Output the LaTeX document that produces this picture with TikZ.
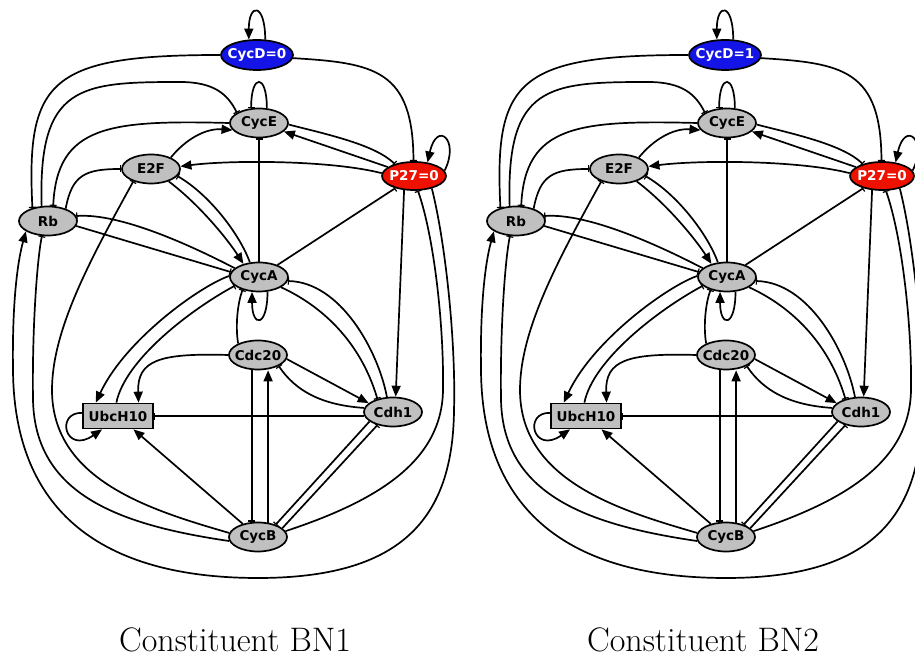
\documentclass[tikz,border=0pt]{standalone}
\usepackage{fontspec}
\usetikzlibrary{shapes.geometric,arrows.meta}
\newfontfamily\genefont{DejaVu Sans}
\definecolor{geneGray}{HTML}{C0C0C0}
\definecolor{cycdBlue}{HTML}{1414E6}
\definecolor{ptRed}{HTML}{EE1100}

\begin{document}
\begin{tikzpicture}[x=1pt,y=1pt,line width=1.7pt,
  every node/.style={font=\genefont\bfseries\fontsize{13.5}{15}\selectfont},
  gene/.style={ellipse,draw,fill=geneGray,minimum width=58pt,minimum height=29pt,inner xsep=-6pt,inner ysep=0pt},
  geneD/.style={gene,fill=cycdBlue,text=white,minimum width=72pt,minimum height=30pt},
  geneP/.style={gene,fill=ptRed,text=white,minimum width=64pt,minimum height=28pt},
  ubc/.style={rectangle,draw,fill=geneGray,minimum width=70pt,minimum height=25pt,inner xsep=-6pt,inner ysep=0pt},
  act/.style={-{Triangle[length=11pt,width=9pt]}},
  inh/.style={-{Bar[width=7pt,line width=1.2pt]}}]
\useasboundingbox (0,0) rectangle (915,660);
\clip (0,0) rectangle (915,660);
\foreach \g/\dx/\v/\n in {L/0/0/1,R/468/1/2}{
\begin{scope}[xshift=\dx pt,name prefix=\g-]
\node[geneD] (cycd) at (257,605) {CycD=\v};
\node[gene] (cyce) at (259,537) {CycE};
\node[gene] (e2f) at (151,491) {E2F};
\node[geneP] (p27) at (414,484) {P27=0};
\node[gene] (rb) at (48,439) {Rb};
\node[gene] (cyca) at (259,383) {CycA};
\node[gene] (cdc20) at (258,305) {Cdc20};
\node[gene] (cdh1) at (393,248) {Cdh1};
\node[ubc] (ubch10) at (118,244) {UbcH10};
\node[gene] (cycb) at (258,123) {CycB};
\node[font=\fontsize{34}{40}\selectfont] (cap) at (235,20) {Constituent BN\n};
\draw[act] (cycd.62) .. controls +(0,37) and +(0,37) .. (cycd.118);
\draw[inh] (cycd.west) .. controls (50,605) and (26,580) .. (rb.140);
\draw[inh] (cycd.355) .. controls (375,597) and (413,590) .. (p27.92);
\draw[inh] (cyce.62) .. controls +(0,35) and +(0,35) .. (cyce.118);
\draw[inh] (rb.113) .. controls (38,575) and (80,578) .. (180,578) .. controls (215,578) and (228,565) .. (cyce.155);
\draw[inh] (cyce.west) .. controls (110,540) and (57,535) .. (rb.71);
\draw[inh] (rb.35) .. controls (72,485) and (85,491) .. (e2f.west);
\draw[act] (e2f.30) .. controls (185,520) and (205,532) .. (cyce.195);
\draw[act] (p27.175) .. controls (330,500) and (230,500) .. (e2f.5);
\draw[act] (p27) -- (cyce);
\draw[inh] (cyce.357) .. controls (330,525) and (375,515) .. (p27.148);
\draw[act] (p27.10) .. controls (460,520) and (437,540) .. (p27.45);
\draw[inh] (cyca) -- (cyce);
\draw[act] (e2f.325) .. controls (200,455) and (228,420) .. (cyca.140);
\draw[inh] (cyca.122) .. controls (240,425) and (210,465) .. (e2f.345);
\draw[inh] (cyca.160) .. controls (190,415) and (120,447) .. (rb.10);
\draw[inh] (rb.350) -- (cyca.170);
\draw[inh] (cyca) -- (p27);
\draw[act] (p27.235) -- (cdh1.80);
\draw[inh] (cycb.12) .. controls (380,160) and (442,200) .. (443,270) .. controls (444,330) and (435,420) .. (p27.285);
\draw[act] (p27.325) .. controls (445,420) and (456,320) .. (454,250) .. controls (453,140) and (400,82) .. (258,82) .. controls (100,82) and (14,150) .. (13,290) .. controls (12,360) and (18,400) .. (rb.205);
\draw[inh] (cycb.188) .. controls (120,135) and (35,165) .. (33,260) .. controls (32,330) and (37,400) .. (rb.248);
\draw[inh] (cycb.172) .. controls (150,150) and (52,180) .. (52,270) .. controls (52,330) and (90,400) .. (e2f.215);
\draw[act] (cyca.300) .. controls +(0,-36) and +(0,-36) .. (cyca.245);
\draw[inh] (cdc20.150) .. controls (235,335) and (238,358) .. (cyca.218);
\draw[act] (cyca.178) .. controls (200,374) and (125,320) .. (ubch10.149);
\draw[inh] (ubch10.97) .. controls (125,300) and (190,350) .. (cyca.200);
\draw[act] (cdc20.west) .. controls (160,307) and (137,300) .. (ubch10.33);
\draw[act] (cdc20.352) -- (cdh1.160);
\draw[inh] (cdh1.172) .. controls (320,255) and (295,270) .. (cdc20.332);
\draw[inh] (cdh1.188) -- (cdh1.188 -| ubch10.east);
\draw[act] (ubch10.175) .. controls (55,248) and (65,205) .. (ubch10.220);
\draw[act] (cycb) -- (ubch10);
\draw[inh] (cdc20.248) -- (cdc20.248 |- cycb.north);
\draw[act] (cycb.55) -- (cycb.55 |- cdc20.south);
\draw[inh] (cdh1.202) -- (cycb.35);
\draw[inh] (cycb.20) -- (cdh1.220);
\draw[inh] (cdh1.112) .. controls (378,310) and (340,378) .. (cyca.352);
\draw[inh] (cyca.335) .. controls (320,355) and (360,320) .. (cdh1.140);
\end{scope}
}
\end{tikzpicture}
\end{document}
